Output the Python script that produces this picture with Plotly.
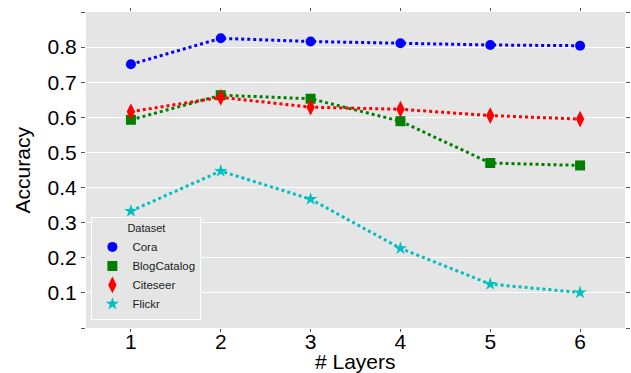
import plotly.graph_objects as go

layers = [1, 2, 3, 4, 5, 6]
cora = [0.751, 0.825, 0.816, 0.811, 0.806, 0.804]
blogcatalog = [0.593, 0.663, 0.653, 0.589, 0.470, 0.463]
citeseer = [0.616, 0.657, 0.629, 0.623, 0.605, 0.595]
flickr = [0.333, 0.447, 0.367, 0.227, 0.125, 0.101]

y_tickvals = [0.0, 0.1, 0.2, 0.3, 0.4, 0.5, 0.6, 0.7, 0.8, 0.9]
y_ticktext = ["", "0.1", "0.2", "0.3", "0.4", "0.5", "0.6", "0.7", "0.8", ""]

series = [
    ("Cora", cora, "#0000FF", "circle", 10),
    ("BlogCatalog", blogcatalog, "#008000", "square", 10),
    ("Citeseer", citeseer, "#FF0000", "diamond-tall", 12),
    ("Flickr", flickr, "#00BFBF", "star", 10),
]

fig = go.Figure()
for name, vals, color, sym, size in series:
    fig.add_trace(go.Scatter(
        x=layers, y=vals, name=name, mode="lines+markers",
        line=dict(color=color, width=3, dash="dot"),
        marker=dict(color=color, symbol=sym, size=size, line=dict(width=0)),
        showlegend=False,
    ))
    fig.add_trace(go.Scatter(
        x=[None], y=[None], name=name, mode="markers",
        marker=dict(color=color, symbol=sym, size=size, line=dict(width=0)),
        showlegend=True,
    ))

fig.update_layout(
    width=631, height=373,
    margin=dict(l=86, r=6, t=12, b=45, autoexpand=False),
    paper_bgcolor="white",
    plot_bgcolor="#E5E5E5",
    font=dict(family="Liberation Sans, Arial, sans-serif", color="#000000"),
    showlegend=True,
    legend=dict(
        x=0.01, y=0.025, xanchor="left", yanchor="bottom",
        bgcolor="#E5E5E5", bordercolor="#FFFFFF", borderwidth=1,
        font=dict(size=11.5, color="#222222"),
        title=dict(text="Dataset", side="top center", font=dict(size=11, color="#222222")),
        tracegroupgap=0,
        itemwidth=30,
    ),
    annotations=[
        dict(text="# Layers", xref="paper", yref="paper", x=0.5, y=-0.062,
             xanchor="center", yanchor="top", showarrow=False,
             font=dict(size=21, color="#000000")),
        dict(text="Accuracy", xref="paper", yref="paper", x=-0.118, y=0.5,
             xanchor="center", yanchor="middle", showarrow=False, textangle=-90,
             font=dict(size=21, color="#000000")),
    ],
)
fig.update_xaxes(
    range=[0.5, 6.5], automargin=False,
    tickvals=layers, ticktext=[str(v) for v in layers],
    showgrid=False, zeroline=False,
    ticks="outside", ticklen=3, tickcolor="#555555", mirror="ticks",
    showline=False, ticklabelstandoff=-8,
    tickfont=dict(size=21, color="#000000"),
)
fig.update_yaxes(
    range=[0.0, 0.9], automargin=False,
    tickvals=y_tickvals, ticktext=y_ticktext,
    showgrid=True, gridcolor="#FFFFFF", gridwidth=1.2, zeroline=False,
    ticks="outside", ticklen=4, tickcolor="#555555", mirror="ticks",
    showline=False,
    tickfont=dict(size=21, color="#000000"),
)

fig.write_html("out.html", config={"displayModeBar": False},
               post_script="document.body.style.margin='0';")
